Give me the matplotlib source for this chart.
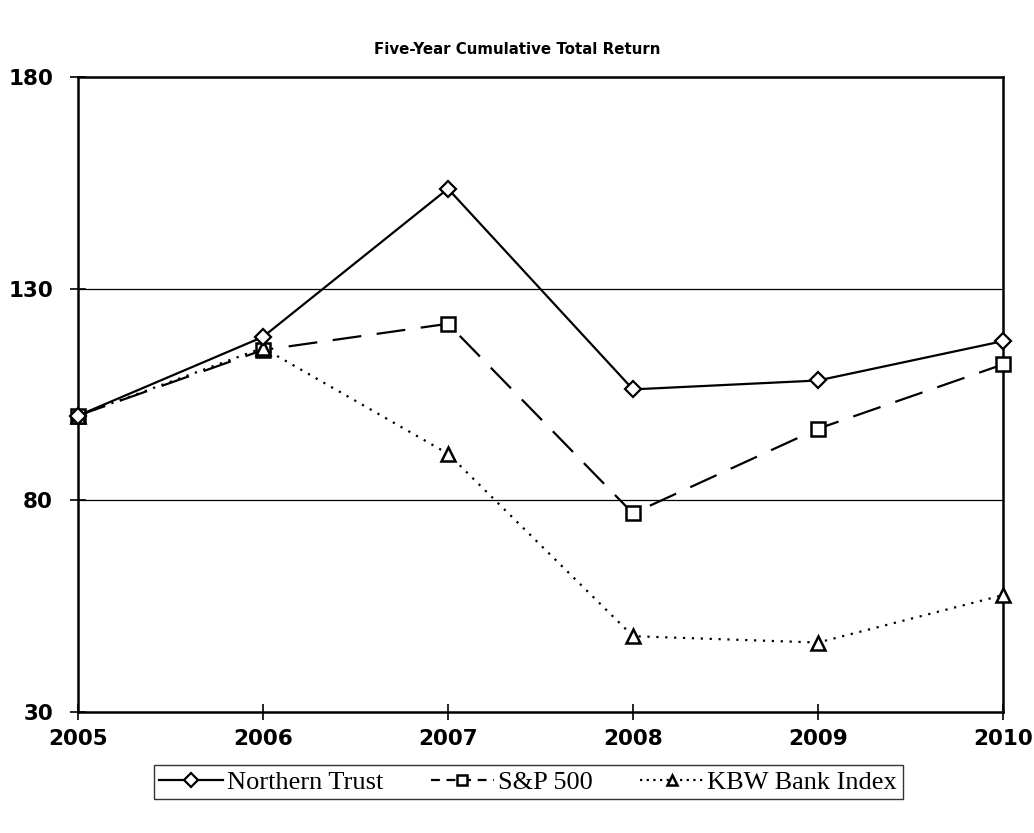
import matplotlib.pyplot as plt
import matplotlib

matplotlib.rcParams['font.family'] = ['DejaVu Sans']

# 数据
years = [2005, 2006, 2007, 2008, 2009, 2010]
northern_trust = [100, 118.6, 153.6, 106.2, 108.3, 117.6]
sp500 = [100, 115.5, 121.7, 76.9, 96.9, 112.1]
kbw_bank = [100, 116, 91.0, 47.9, 46.4, 57.6]
y_ticks = [30, 80, 130, 180]

fig = plt.figure(figsize=(10.34, 8.33), dpi=100)
ax = fig.add_axes([0.0754, 0.1453, 0.8946, 0.7623])

ax.plot(years, northern_trust, color='black', lw=1.6, ls='-',
        marker='D', markersize=8, markerfacecolor='white',
        markeredgecolor='black', markeredgewidth=1.6, label='Northern Trust',
        zorder=4, clip_on=False)
ax.plot(years, sp500, color='black', lw=1.6, ls=(0, (13, 7)),
        marker='s', markersize=10, markerfacecolor='white',
        markeredgecolor='black', markeredgewidth=1.8, label='S&P 500',
        zorder=3, clip_on=False)
ax.plot(years, kbw_bank, color='black', lw=1.6, ls=(0, (1, 3)),
        marker='^', markersize=10, markerfacecolor='white',
        markeredgecolor='black', markeredgewidth=1.8, label='KBW Bank Index',
        zorder=3, clip_on=False)

ax.set_xlim(2005, 2010)
ax.set_ylim(30, 180)
ax.set_xticks(years)
ax.set_yticks(y_ticks)
ax.set_xticklabels([str(y) for y in years], fontsize=15.5, fontweight='bold')
ax.set_yticklabels([str(v) for v in y_ticks], fontsize=15.5, fontweight='bold')
ax.tick_params(axis='both', direction='inout', length=12, width=1.2, color='black')
ax.tick_params(axis='x', pad=6)
ax.tick_params(axis='y', pad=12)

for v in [80, 130]:
    ax.axhline(v, color='black', lw=0.9, zorder=1)

for s in ax.spines.values():
    s.set_linewidth(1.8)
    s.set_color('black')

fig.text(0.5, 0.941, 'Five-Year Cumulative Total Return', ha='center', va='center',
         fontsize=10.8, fontweight='bold')

leg = fig.legend(loc='center', bbox_to_anchor=(0.511, 0.061), ncol=3, frameon=True,
                 fancybox=False, edgecolor='black', handlelength=2.4,
                 columnspacing=1.8, handletextpad=0.15, borderpad=0.2,
                 prop={'family': 'Liberation Serif', 'size': 19})
leg.get_frame().set_linewidth(1.0)
for h in leg.legend_handles:
    h.set_markersize(7)
# 图例里的虚线短一些
leg.legend_handles[1].set_linestyle((0, (4, 3)))
leg.legend_handles[2].set_linestyle((0, (1, 2)))

fig.savefig('out.png', dpi=100)
